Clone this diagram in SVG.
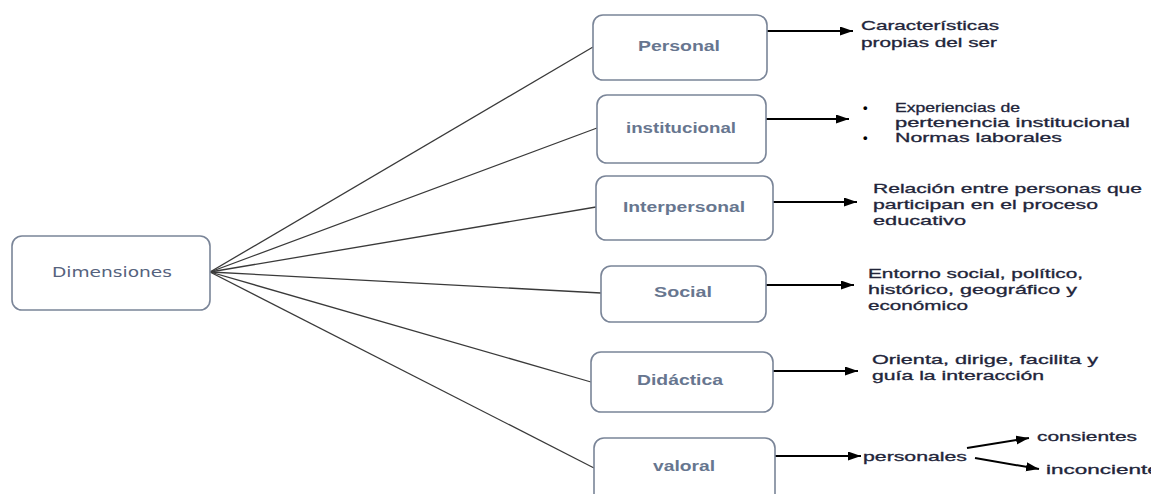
<svg xmlns="http://www.w3.org/2000/svg" width="1151" height="494" viewBox="0 0 1151 494">
<style>
.box{fill:#fff;stroke:#7a8598;stroke-width:1.6}
.lbl{font-family:"Liberation Sans",Arial,sans-serif;font-size:14px;font-weight:bold;fill:#67768f}
.main{font-family:"DejaVu Sans",Verdana,sans-serif;font-size:14px;fill:#55627d}
.t{font-family:"Liberation Sans",Arial,sans-serif;font-size:13px;fill:#22253a;stroke:#22253a;stroke-width:0.3}
.b{font-family:"Liberation Sans",Arial,sans-serif;font-size:13px;font-weight:bold;fill:#000}
.fan{stroke:#3a3a3a;stroke-width:1.3;fill:none}
.arr{stroke:#000;stroke-width:2;fill:none;marker-end:url(#ah)}
</style>
<defs>
<marker id="ah" markerUnits="userSpaceOnUse" markerWidth="14" markerHeight="10" refX="13" refY="4.5" orient="auto">
<path d="M0,0 L13,4.5 L0,9 z" fill="#000"/>
</marker>
</defs>
<rect width="1151" height="494" fill="#fff"/>
<g id="connectors">
<line class="fan" x1="210" y1="272" x2="593" y2="47"/>
<line class="fan" x1="210" y1="272" x2="597" y2="128"/>
<line class="fan" x1="210" y1="272" x2="596" y2="207"/>
<line class="fan" x1="210" y1="272" x2="601" y2="293"/>
<line class="fan" x1="210" y1="272" x2="591" y2="382"/>
<line class="fan" x1="210" y1="272" x2="594" y2="468"/>
<line class="arr" x1="767" y1="31" x2="853" y2="31"/>
<line class="arr" x1="766" y1="119" x2="849" y2="119"/>
<line class="arr" x1="773" y1="202" x2="857" y2="202"/>
<line class="arr" x1="766" y1="285" x2="854" y2="285"/>
<line class="arr" x1="773" y1="371" x2="858" y2="371"/>
<line class="arr" x1="775" y1="456" x2="861" y2="456"/>
<line class="arr" x1="967" y1="448" x2="1029" y2="438"/>
<line class="arr" x1="975" y1="458" x2="1039" y2="469"/>
</g>
<g id="dimensiones">
<rect class="box" x="12" y="236" width="198" height="74" rx="10"/>
<text class="main" x="52" y="277" textLength="120" lengthAdjust="spacingAndGlyphs">Dimensiones</text>
</g>
<g id="personal">
<rect class="box" x="593" y="15" width="174" height="65" rx="10"/>
<text class="lbl" x="638" y="51" textLength="82" lengthAdjust="spacingAndGlyphs">Personal</text>
</g>
<g id="institucional">
<rect class="box" x="597" y="95" width="169" height="68" rx="10"/>
<text class="lbl" x="626" y="133" textLength="110" lengthAdjust="spacingAndGlyphs">institucional</text>
</g>
<g id="interpersonal">
<rect class="box" x="596" y="176" width="177" height="64" rx="10"/>
<text class="lbl" x="623" y="212" textLength="122" lengthAdjust="spacingAndGlyphs">Interpersonal</text>
</g>
<g id="social">
<rect class="box" x="601" y="266" width="165" height="56" rx="10"/>
<text class="lbl" x="654" y="297" textLength="58" lengthAdjust="spacingAndGlyphs">Social</text>
</g>
<g id="didactica">
<rect class="box" x="591" y="352" width="182" height="60" rx="10"/>
<text class="lbl" x="637" y="385" textLength="86" lengthAdjust="spacingAndGlyphs">Didáctica</text>
</g>
<g id="valoral">
<rect class="box" x="594" y="438" width="181" height="70" rx="10"/>
<text class="lbl" x="653" y="471" textLength="62" lengthAdjust="spacingAndGlyphs">valoral</text>
</g>
<g id="desc-personal">
<text class="t" x="861" y="30" textLength="138" lengthAdjust="spacingAndGlyphs">Características</text>
<text class="t" x="861" y="47" textLength="136" lengthAdjust="spacingAndGlyphs">propias del ser</text>
</g>
<g id="desc-institucional">
<text class="b" x="863" y="112">•</text>
<text class="t" x="895" y="112" textLength="125" lengthAdjust="spacingAndGlyphs">Experiencias de</text>
<text class="t" x="895" y="127" textLength="235" lengthAdjust="spacingAndGlyphs">pertenencia institucional</text>
<text class="b" x="863" y="142">•</text>
<text class="t" x="895" y="142" textLength="167" lengthAdjust="spacingAndGlyphs">Normas laborales</text>
</g>
<g id="desc-interpersonal">
<text class="t" x="873" y="193" textLength="269" lengthAdjust="spacingAndGlyphs">Relación entre personas que</text>
<text class="t" x="873" y="209" textLength="225" lengthAdjust="spacingAndGlyphs">participan en el proceso</text>
<text class="t" x="873" y="225" textLength="93" lengthAdjust="spacingAndGlyphs">educativo</text>
</g>
<g id="desc-social">
<text class="t" x="868" y="278" textLength="215" lengthAdjust="spacingAndGlyphs">Entorno social, político,</text>
<text class="t" x="868" y="294" textLength="209" lengthAdjust="spacingAndGlyphs">histórico, geográfico y</text>
<text class="t" x="868" y="310" textLength="100" lengthAdjust="spacingAndGlyphs">económico</text>
</g>
<g id="desc-didactica">
<text class="t" x="872" y="364" textLength="226" lengthAdjust="spacingAndGlyphs">Orienta, dirige, facilita y</text>
<text class="t" x="872" y="380" textLength="172" lengthAdjust="spacingAndGlyphs">guía la interacción</text>
</g>
<g id="desc-valoral">
<text class="t" x="863" y="461" textLength="104" lengthAdjust="spacingAndGlyphs">personales</text>
<text class="t" x="1037" y="441" textLength="100" lengthAdjust="spacingAndGlyphs">consientes</text>
<text class="t" x="1046" y="474" textLength="125" lengthAdjust="spacingAndGlyphs">inconcientes</text>
</g>
</svg>
